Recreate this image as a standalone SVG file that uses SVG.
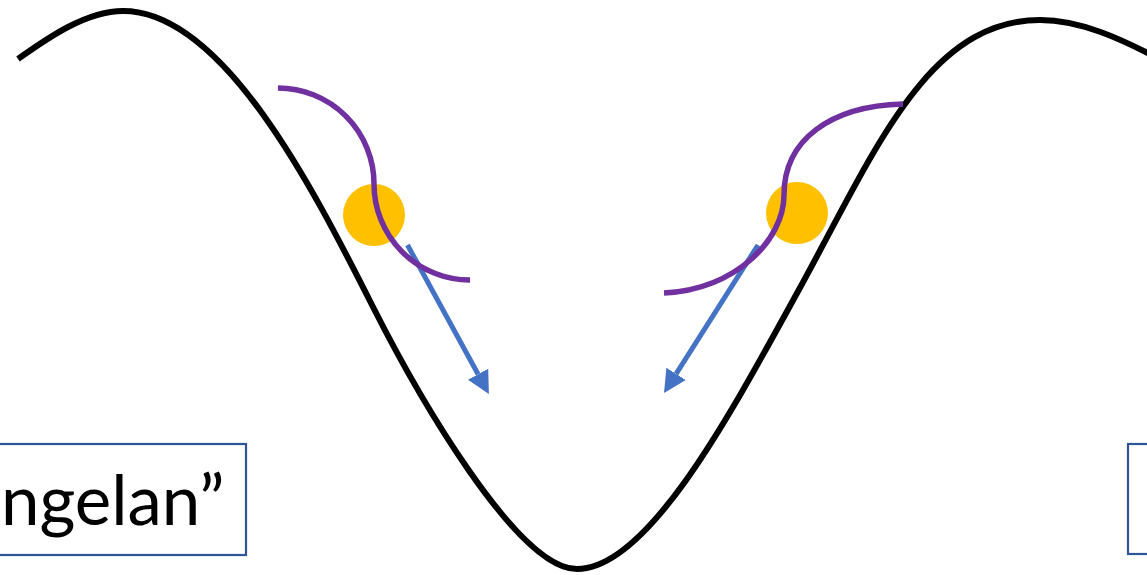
<svg xmlns="http://www.w3.org/2000/svg" width="1147" height="575" viewBox="0 0 1147 575">
  <style>
    .wave { fill: none; stroke: #000000; stroke-width: 6; }
    .ball { fill: #FFC000; }
    .swing { fill: none; stroke: #7030A0; stroke-width: 5.5; }
    .force { fill: none; stroke: #4472C4; stroke-width: 5; }
    .box { fill: #FFFFFF; stroke: #2F5597; stroke-width: 2.2; }
    .label { font-family: Lato, "Liberation Sans", sans-serif; font-size: 69px; fill: #000000; }
  </style>
  <defs>
    <marker id="head" markerUnits="strokeWidth" markerWidth="5" markerHeight="5" refX="0" refY="2.3" orient="auto">
      <path d="M0,0 L4.5,2.3 L0,4.6 Z" fill="#4472C4"/>
    </marker>
  </defs>
  <rect width="1147" height="575" fill="#FFFFFF"/>

  <g id="curve">
    <path class="wave" d="M18,59 C45,40 85,11 123,11 C223,11 313.4,188.9 372,305 C417.1,394.3 517,569 577,569 C647,569 728.2,418.5 796,295 C872,158 925,20 1040,20 C1080,20 1120,38 1165,62"/>
  </g>

  <g id="ball-left">
    <circle class="ball" cx="374" cy="215" r="31"/>
  </g>
  <g id="ball-right">
    <circle class="ball" cx="797" cy="213" r="31"/>
  </g>

  <g id="connectors">
    <path class="force" d="M407.5,245 L478.1,374.2" marker-end="url(#head)"/>
    <path class="force" d="M758,245 L676.1,373.9" marker-end="url(#head)"/>
    <path class="swing" d="M278,88 A96,96 0 0 1 374,184 A96,96 0 0 0 470,280"/>
    <path class="swing" d="M903,104 C830,106 784,140 784,195 C784,240 735,290 664,293"/>
  </g>

  <g id="label-left">
    <rect class="box" x="-10" y="444" width="256" height="111"/>
    <text class="label" x="1" y="525">ngelan”</text>
  </g>
  <g id="label-right">
    <rect class="box" x="1128" y="444" width="40" height="110"/>
  </g>
</svg>
